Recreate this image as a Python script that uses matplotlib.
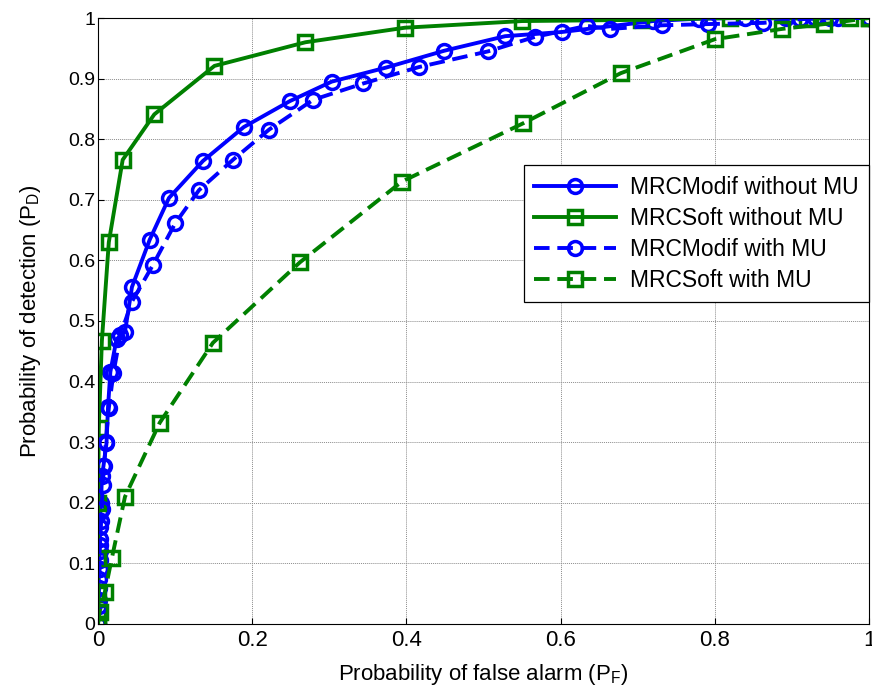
import matplotlib
matplotlib.use("Agg")
import matplotlib.pyplot as plt

# ROC curves
pf_modif = [0, 0.001, 0.001, 0.002, 0.002, 0.003, 0.003, 0.004, 0.005, 0.007,
            0.011, 0.013, 0.016, 0.024, 0.035, 0.044, 0.067, 0.092, 0.136, 0.189,
            0.249, 0.303, 0.373, 0.449, 0.528, 0.602, 0.72, 0.78, 0.839, 0.892,
            0.93, 0.96, 1.0]
pd_modif = [0, 0.04, 0.075, 0.105, 0.13, 0.16, 0.185, 0.2, 0.245, 0.26,
            0.298, 0.358, 0.416, 0.47, 0.482, 0.556, 0.634, 0.703, 0.764, 0.82,
            0.863, 0.895, 0.918, 0.946, 0.970, 0.977, 0.995, 0.999, 1.0, 1.0,
            1.0, 1.0, 1.0]

pf_soft = [0, 0, 0, 0, 0, 0.001, 0.005, 0.014, 0.032, 0.073, 0.151, 0.269,
           0.398, 0.55, 0.704, 0.82, 0.92, 0.975, 1.0]
pd_soft = [0, 0.02, 0.05, 0.109, 0.2, 0.323, 0.467, 0.63, 0.766, 0.841, 0.921,
           0.96, 0.984, 0.995, 0.997, 1.0, 0.999, 1.0, 1.0]

pf_modif_mu = [0, 0.001, 0.001, 0.002, 0.002, 0.003, 0.004, 0.005, 0.006, 0.008,
               0.01, 0.014, 0.02, 0.029, 0.044, 0.071, 0.100, 0.131, 0.175, 0.222,
               0.279, 0.344, 0.416, 0.506, 0.567, 0.634, 0.664, 0.732, 0.791, 0.863,
               0.91, 0.95, 1.0]
pd_modif_mu = [0, 0.03, 0.06, 0.09, 0.12, 0.14, 0.17, 0.19, 0.23, 0.26,
               0.30, 0.356, 0.414, 0.477, 0.532, 0.592, 0.661, 0.716, 0.766, 0.816,
               0.865, 0.892, 0.919, 0.945, 0.969, 0.987, 0.982, 0.988, 0.99, 0.992,
               0.998, 1.0, 1.0]

pf_soft_mu = [0, 0.002, 0.009, 0.018, 0.035, 0.08, 0.149, 0.262, 0.394, 0.551,
              0.678, 0.8, 0.887, 0.942, 1.0]
pd_soft_mu = [0, 0.02, 0.053, 0.109, 0.21, 0.332, 0.464, 0.597, 0.73, 0.826,
              0.909, 0.965, 0.982, 0.99, 1.0]

labels = ["MRCModif without MU", "MRCSoft without MU",
          "MRCModif with MU", "MRCSoft with MU"]

blue = (0, 0, 1)
green = (0, 0.5, 0)

plt.rcParams['font.family'] = ['Liberation Sans', 'DejaVu Sans']

fig = plt.figure(figsize=(8.72, 6.93), dpi=100)
ax = fig.add_axes([0.1124, 0.0996, 0.8842, 0.8744])

style = dict(linewidth=2.8, markersize=10, markerfacecolor='none', markeredgewidth=2.5)
ax.plot(pf_modif, pd_modif, '-o', color=blue, label=labels[0], **style)
ax.plot(pf_soft, pd_soft, '-s', color=green, label=labels[1], **style)
ax.plot(pf_modif_mu, pd_modif_mu, '--o', color=blue, label=labels[2],
        dashes=(4, 2), **style)
ax.plot(pf_soft_mu, pd_soft_mu, '--s', color=green, label=labels[3],
        dashes=(4, 2), **style)

ax.set_xlim(0, 1)
ax.set_ylim(0, 1)
ax.set_xticks([0, 0.2, 0.4, 0.6, 0.8, 1])
ax.set_xticklabels(['0', '0.2', '0.4', '0.6', '0.8', '1'])
ax.set_yticks([i / 10 for i in range(11)])
ax.set_yticklabels(['0'] + ['0.%d' % i for i in range(1, 10)] + ['1'])
ax.grid(True, color='#8c8c8c', linestyle=(0, (1, 1)), linewidth=0.7)
ax.tick_params(direction='in', length=4, width=0.8, labelsize=14, pad=4)
ax.tick_params(axis='y', pad=2)
for lab in ax.get_xticklabels():
    lab.set_fontsize(16)
for s in ax.spines.values():
    s.set_linewidth(0.8)

ax.set_xlabel('Probability of false alarm (P$_\\mathregular{F}$)', fontsize=16,
              labelpad=8)
ax.set_ylabel('Probability of detection (P$_\\mathregular{D}$)', fontsize=16,
              labelpad=18)

leg = ax.legend(loc='upper right', bbox_to_anchor=(1.0, 0.757), fontsize=16.5,
                frameon=True, fancybox=False, edgecolor='black', framealpha=1,
                handlelength=3.6, borderpad=0.45, labelspacing=0.35,
                handletextpad=0.6, borderaxespad=0)
leg.get_frame().set_linewidth(0.9)

fig.savefig('out.png', dpi=100)
